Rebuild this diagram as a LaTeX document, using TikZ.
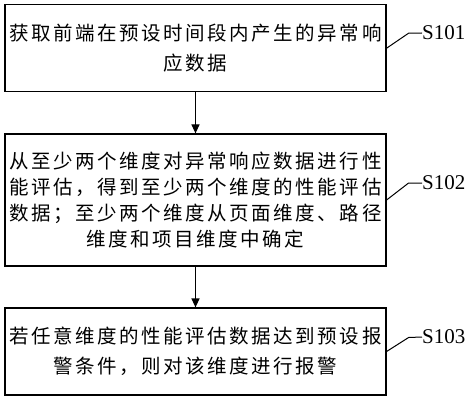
\documentclass[tikz,border=0pt]{standalone}
\usepackage{fontspec}
\setmainfont{Liberation Serif}
\newfontfamily\cjk[LetterSpace=13]{Noto Sans CJK SC}
\usetikzlibrary{arrows.meta}
\tikzset{
  stepbox/.style={draw=black, line width=1.2pt, minimum width=381pt, inner sep=0pt,
    align=center, font=\cjk\fontsize{19.5pt}{30pt}\selectfont},
  flow/.style={draw=black, line width=1.2pt, -{Triangle[length=9pt,width=8pt]}},
  lead/.style={draw=black, line width=1pt},
  steplabel/.style={anchor=west, inner sep=0pt, font=\fontsize{21pt}{24pt}\selectfont}
}
\begin{document}
\begin{tikzpicture}[x=1pt,y=1pt]
\useasboundingbox (0,0) rectangle (474,-401);
\node[stepbox, minimum height=87pt] (b1) at (195.5,-48.2)
  {获取前端在预设时间段内产生的异常响\\应数据};
\node[stepbox, minimum height=132pt, font=\cjk\fontsize{19.5pt}{25.7pt}\selectfont] (b2) at (195.5,-200)
  {从至少两个维度对异常响应数据进行性\\能评估，得到至少两个维度的性能评估\\数据；至少两个维度从页面维度、路径\\维度和项目维度中确定};
\node[stepbox, minimum height=87pt] (b3) at (195.5,-351.5)
  {若任意维度的性能评估数据达到预设报\\警条件，则对该维度进行报警};
\draw[flow] (b1.south) -- (b2.north);
\draw[flow] (b2.south) -- (b3.north);
\node[steplabel] (l1) at (422,-33) {S101};
\node[steplabel] (l2) at (422,-183) {S102};
\node[steplabel] (l3) at (422,-337) {S103};
\draw[lead] (b1.east) -- ++(22,15) -- (l1.west);
\draw[lead] (b2.east) -- ++(22,17) -- (l2.west);
\draw[lead] (b3.east) -- ++(22,14) -- (l3.west);
\end{tikzpicture}
\end{document}
